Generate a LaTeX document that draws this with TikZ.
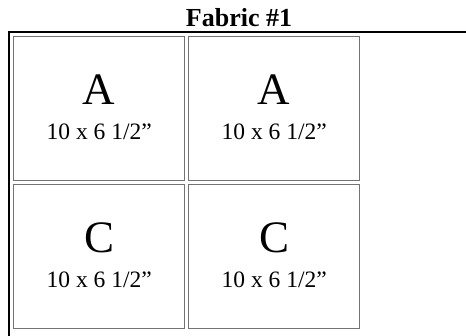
\documentclass[tikz,border=0pt]{standalone}
\usepackage{fontspec}
\setmainfont{Liberation Serif}
\usetikzlibrary{positioning}
\tikzset{
    piece/.style={draw=black!55, line width=1.4pt, inner sep=0pt,
        minimum width=171pt, minimum height=144pt},
    pieceletter/.style={font=\fontsize{45}{45}\selectfont, inner sep=0pt},
    piecesize/.style={font=\fontsize{23.5}{23.5}\selectfont, inner sep=0pt},
    tableline/.style={draw=black, line width=1.1pt},
}
\newcommand{\FabricPiece}[4]{
    \node[piece, anchor=north west] (#1) at (#2) {};
    \node[pieceletter, anchor=base] (#1L) at ([yshift=-68pt]#1.north) {#3};
    \node[piecesize, anchor=base] (#1S) at ([yshift=-103pt]#1.north) {#4};
}

\begin{document}
\begin{tikzpicture}[x=1pt, y=-1pt]
    \useasboundingbox (0,0) rectangle (466,335);
    \coordinate (T1) at (13, 36);
    \coordinate (T2) at (188, 36);
    \coordinate (T3) at (13, 184);
    \coordinate (T4) at (188, 184);

    \node[font=\fontsize{26}{26}\selectfont\bfseries, inner sep=0pt, anchor=base] (title) at (239, 26) {Fabric \#1};
    \draw[tableline] (9, 340) -- (9, 32) -- (470, 32);

    \FabricPiece{P1}{T1}{A}{10 x 6 1/2”}
    \FabricPiece{P2}{T2}{A}{10 x 6 1/2”}
    \FabricPiece{P3}{T3}{C}{10 x 6 1/2”}
    \FabricPiece{P4}{T4}{C}{10 x 6 1/2”}
    \end{tikzpicture}
\end{document}
